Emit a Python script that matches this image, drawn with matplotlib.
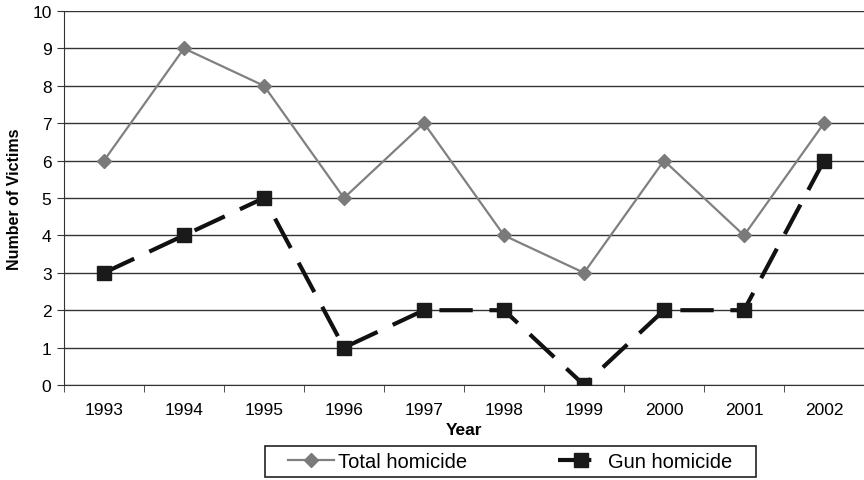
import matplotlib
matplotlib.use("Agg")
import matplotlib.pyplot as plt
from matplotlib.patches import Rectangle
import numpy as np

years = ["1993", "1994", "1995", "1996", "1997", "1998", "1999", "2000", "2001", "2002"]
total_homicide = [6, 9, 8, 5, 7, 4, 3, 6, 4, 7]
gun_homicide = [3, 4, 5, 1, 2, 2, 0, 2, 2, 6]

plt.rcParams["font.family"] = ["Liberation Sans", "DejaVu Sans"]

fig = plt.figure(figsize=(8.64, 4.81), dpi=100)
ax = fig.add_axes([64 / 864, 1 - 386 / 481, 1 - 64 / 864, (386 - 12) / 481])

x = np.arange(len(years))
ax.plot(x, total_homicide, color="#808080", lw=1.6, marker="D", ms=7.5,
        mfc="#7a7a7a", mec="#7a7a7a", label="Total homicide", zorder=3)
ax.plot(x, gun_homicide, color="#111111", lw=3, ls=(0, (8, 4)), marker="s", ms=10,
        mfc="#1a1a1a", mec="#1a1a1a", label="Gun homicide", zorder=4)

ax.set_ylim(0, 10)
ax.set_xlim(-0.5, len(years) - 0.5)
ax.set_yticks(range(0, 11))
ax.yaxis.grid(True, color="#333333", lw=1)
ax.set_axisbelow(True)

ax.set_xticks(x)
ax.set_xticklabels(years)
ax.set_xticks(np.arange(-0.5, len(years), 1), minor=True)
ax.tick_params(axis="x", which="major", length=0, pad=12, labelsize=12.5)
ax.tick_params(axis="x", which="minor", length=5, direction="out", color="#333333")
ax.tick_params(axis="y", length=5, direction="out", labelsize=12.5, pad=4, color="#333333")

for side in ["top", "right"]:
    ax.spines[side].set_visible(False)
ax.spines["left"].set_color("#333333")
ax.spines["bottom"].set_color("#333333")

ax.set_xlabel("Year", fontsize=12.5, fontweight="bold", labelpad=4)
ax.set_ylabel("Number of Victims", fontsize=11.5, fontweight="bold", labelpad=7)

# legend entries without their own frame; the box is drawn wider like the original
leg = fig.legend(loc="center", bbox_to_anchor=(510 / 864, 1 - 463 / 481), ncol=2,
                 frameon=False, fontsize=14.5,
                 columnspacing=4.5, handlelength=2.3, handletextpad=0.2, borderpad=0.15,
                 borderaxespad=0)
fig.patches.append(Rectangle((265 / 864, 1 - 478 / 481), (756 - 265) / 864, 31 / 481,
                             transform=fig.transFigure, fill=False,
                             edgecolor="#222222", lw=1.2))

fig.savefig("out.png", dpi=100)
